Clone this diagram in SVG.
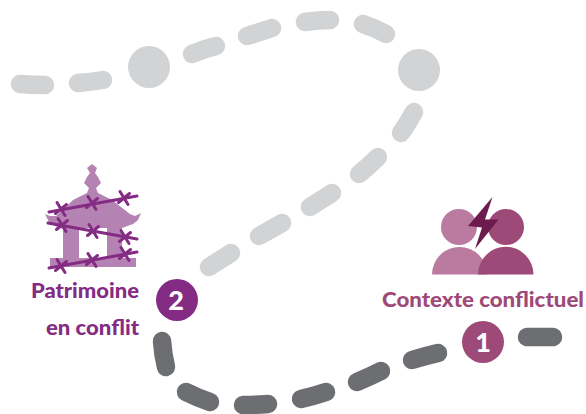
<svg xmlns="http://www.w3.org/2000/svg" width="586" height="414" viewBox="0 0 586 414">
<style>
.l{fill:none;stroke:#d1d3d4;stroke-width:18.500;stroke-linecap:round}
.d{fill:none;stroke:#6d6e71;stroke-width:18.500;stroke-linecap:round}
.w{fill:none;stroke:#842b84;stroke-width:3;stroke-linecap:round}
text{font-family:Lato,"Open Sans",sans-serif;font-weight:900}
.p{fill:#842b84;font-size:20px}
.c{fill:#9e4a78;font-size:20px}
.n{fill:#fff;font-size:27px;text-anchor:middle}
</style>
<defs>
<path id="x" class="w" d="M-4 -6.500L4 6.500M5.500 -4.500L-5.500 4.500"/>
</defs>
<g id="connectors">
<path class="l" d="M20 84Q33 85 45 85"/>
<path class="l" d="M78 83Q91 82 103 80"/>
<path class="l" d="M192 54Q204 49 216 46"/>
<path class="l" d="M247 36Q260 32 272 28"/>
<path class="l" d="M305 22Q318 20 330 20"/>
<path class="l" d="M363 24Q375 28 386 34"/>
<path class="l" d="M414 112Q408 123 401 133"/>
<path class="l" d="M378 157Q369 166 359 174"/>
<path class="l" d="M332 193Q321 200 310 207"/>
<path class="l" d="M282 223Q270 230 259 236"/>
<path class="l" d="M231 253Q220 260 209 267"/>
<path class="d" d="M162 341Q163 355 166 367"/>
<path class="d" d="M186 392Q198 398 210 402"/>
<path class="d" d="M243 405Q255 405 268 404"/>
<path class="d" d="M301 399Q314 396 326 392"/>
<path class="d" d="M357 382Q369 377 381 371"/>
<path class="d" d="M412 360Q425 356 438 353"/>
<path class="d" d="M527 337Q540 337 553 337"/>
</g>
<g id="node-waypoint-1"><circle cx="149" cy="67" r="21" fill="#d1d3d4"/></g>
<g id="node-waypoint-2"><circle cx="419" cy="70" r="21" fill="#d1d3d4"/></g>
<g id="node-patrimoine">
<path fill="#b583b3" d="M92 164L97 168L95 173L98 177L101 183L96 188L98 193L112 200L130 214L135 216L141 213L138 220L133 224L122 228V258H136V267H50V258H63V229L55 226L49 222L45 214L50 216L56 216L73 200L87 193L89 188L84 183L87 177L90 173L87 168Z"/>
<rect x="79" y="228" width="28" height="30" fill="#fff"/>
<path class="w" d="M49 212L137 196M48 223L137 239M49 268L137 252"/>
<use href="#x" x="61" y="209"/><use href="#x" x="92" y="203"/><use href="#x" x="124" y="198"/>
<use href="#x" x="62" y="225"/><use href="#x" x="93" y="231"/><use href="#x" x="125" y="237"/>
<use href="#x" x="61" y="266"/><use href="#x" x="92" y="260"/><use href="#x" x="125" y="254"/>
<text class="p" x="31" y="298" textLength="108" lengthAdjust="spacingAndGlyphs">Patrimoine</text>
<text class="p" x="46" y="335" textLength="93" lengthAdjust="spacingAndGlyphs">en conflit</text>
<circle cx="177" cy="300" r="21" fill="#842b84"/>
<text class="n" x="176" y="310">2</text>
</g>
<g id="node-contexte">
<circle cx="459" cy="227" r="18" fill="#bb7ba0"/>
<path fill="#bb7ba0" d="M432 274.500A27.500 27.500 0 0 1 487 274.500Z"/>
<circle cx="506" cy="227" r="18" fill="#9e4a78"/>
<path fill="#9e4a78" d="M478 274.500A27.700 27.700 0 0 1 533.500 274.500Z"/>
<path fill="#6d1b4f" d="M492.500 197L468 226L482 227.500L475 249L498.500 219.500L485 219.500Z"/>
<text class="c" x="382" y="307" textLength="202" lengthAdjust="spacingAndGlyphs">Contexte conflictuel</text>
<circle cx="483" cy="342" r="21" fill="#9e4a78"/>
<text class="n" x="483" y="352">1</text>
</g>
</svg>
